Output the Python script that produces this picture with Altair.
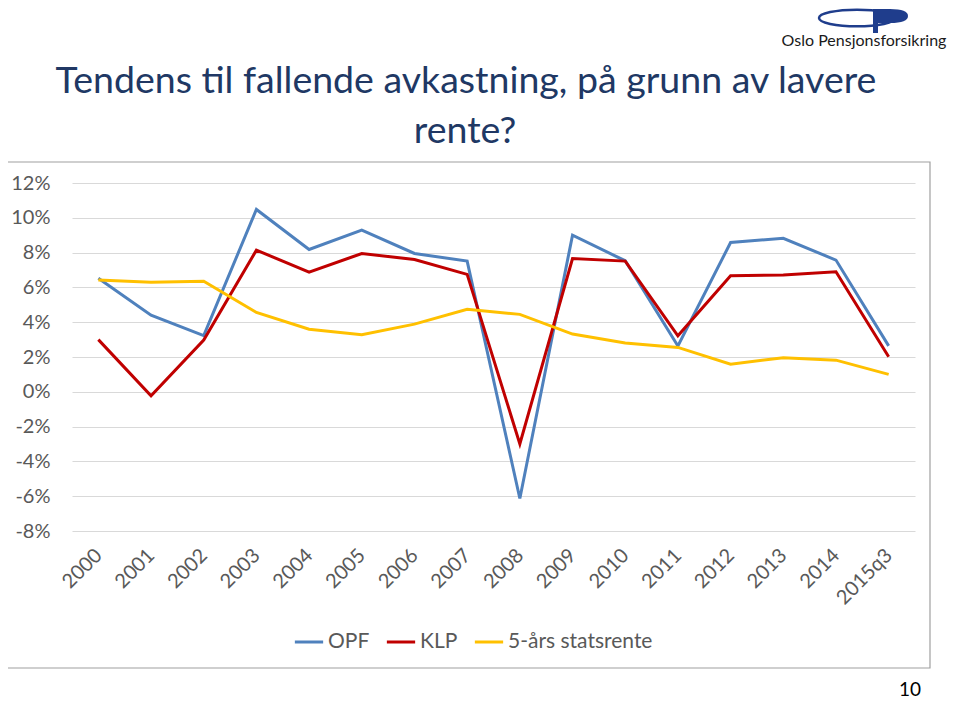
import altair as alt
import pandas as pd

years = ["2000", "2001", "2002", "2003", "2004", "2005", "2006", "2007",
         "2008", "2009", "2010", "2011", "2012", "2013", "2014", "2015q3"]
opf = [6.53, 4.4, 3.23, 10.48, 8.18, 9.29, 7.95, 7.51, -6.13, 9.0, 7.53, 2.63, 8.58, 8.82, 7.57, 2.64]
klp = [3.0, -0.23, 2.97, 8.14, 6.88, 7.95, 7.6, 6.75, -3.0, 7.66, 7.51, 3.22, 6.67, 6.71, 6.9, 2.01]
rente = [6.42, 6.3, 6.36, 4.56, 3.6, 3.28, 3.89, 4.74, 4.45, 3.32, 2.8, 2.55, 1.59, 1.96, 1.82, 1.0]
series_names = ["OPF", "KLP", "5-års statsrente"]
series_colors = ["#4F81BD", "#C00000", "#FFC000"]
y_ticks = [-8, -6, -4, -2, 0, 2, 4, 6, 8, 10, 12]
title_lines = ["Tendens til fallende avkastning, på grunn av lavere", "rente?"]
logo_text = "Oslo Pensjonsforsikring"
page_number = "10"

FONT = "Lato"
LABEL_COLOR = "#595959"
LOGO_BLUE = "#1f3d8c"

rows = []
for name, vals in zip(series_names, [opf, klp, rente]):
    for yr, v in zip(years, vals):
        rows.append({"year": yr, "value": v, "series": name})
df = pd.DataFrame(rows)
one = pd.DataFrame({"k": [0]})

# plot origin on the page is (72, 183); helpers convert page px to plot px
def px(v):
    return v - 72

def py(v):
    return v - 183

x_enc = alt.X(
    "year:N", sort=years,
    scale=alt.Scale(type="point", padding=0.5),
    axis=alt.Axis(title=None, domain=False, ticks=False, grid=False,
                  labelAngle=-45, labelAlign="right", labelBaseline="middle",
                  labelPadding=21, labelFont=FONT, labelFontSize=20,
                  labelColor=LABEL_COLOR),
)
y_enc = alt.Y(
    "value:Q",
    scale=alt.Scale(domain=[-8, 12], nice=False, zero=False),
    axis=alt.Axis(title=None, values=y_ticks, labelExpr="datum.value + '%'",
                  domain=False, ticks=False, grid=True, gridColor="#D9D9D9",
                  gridWidth=1, labelPadding=22, labelFont=FONT, labelFontSize=20,
                  labelColor=LABEL_COLOR),
)
color_enc = alt.Color(
    "series:N",
    scale=alt.Scale(domain=series_names, range=series_colors),
    legend=alt.Legend(orient="none", legendX=221, legendY=443, direction="horizontal",
                      title=None, symbolType="stroke", symbolSize=800,
                      symbolStrokeWidth=3, labelFont=FONT, labelFontSize=21,
                      labelColor=LABEL_COLOR, columnPadding=10, labelOffset=3),
)

line_layers = []
for name in series_names:
    line_layers.append(
        alt.Chart(df).transform_filter(alt.datum.series == name)
        .mark_line(strokeWidth=3)
        .encode(x=x_enc, y=y_enc, color=color_enc)
    )

box = alt.Chart(one).mark_rect(fill=None, stroke="#A0A0A0", strokeWidth=1.2).encode(
    x=alt.value(px(2)), x2=alt.value(px(930)), y=alt.value(py(162)), y2=alt.value(py(668)))

title1 = alt.Chart(one).mark_text(text=title_lines[0], font=FONT, fontSize=37.5,
                                  color="#203864", align="center", baseline="alphabetic").encode(
    x=alt.value(px(466)), y=alt.value(py(93)))
title2 = alt.Chart(one).mark_text(text=title_lines[1], font=FONT, fontSize=37.5,
                                  color="#203864", align="center", baseline="alphabetic").encode(
    x=alt.value(px(465)), y=alt.value(py(143)))

logo_txt = alt.Chart(one).mark_text(text=logo_text, font=FONT, fontSize=16,
                                    color="#1a1a1a", align="center", baseline="alphabetic").encode(
    x=alt.value(px(864)), y=alt.value(py(46)))

ellipse_path = "M -1 0 A 1 0.22 0 1 0 1 0 A 1 0.22 0 1 0 -1 0 Z"
logo_ellipse = alt.Chart(one).mark_point(shape=ellipse_path, size=5776, filled=False,
                                         stroke=LOGO_BLUE, strokeWidth=2.5, opacity=1).encode(
    x=alt.value(px(857)), y=alt.value(py(18)))
lobe_path = "M -0.944 -0.389 L 0 -0.389 Q 1 -0.389 1 0 Q 1 0.389 0 0.389 L -0.944 0.389 Z"
logo_lobe = alt.Chart(one).mark_point(shape=lobe_path, size=1296, filled=True,
                                      fill=LOGO_BLUE, opacity=1, strokeWidth=0).encode(
    x=alt.value(px(890)), y=alt.value(py(16)))
logo_stem = alt.Chart(one).mark_rect(fill=LOGO_BLUE).encode(
    x=alt.value(px(873)), x2=alt.value(px(878)), y=alt.value(py(9)), y2=alt.value(py(33)))

page_num = alt.Chart(one).mark_text(text=page_number, font=FONT, fontSize=19,
                                    color="#000000", align="center", baseline="alphabetic").encode(
    x=alt.value(px(910)), y=alt.value(py(696)))

chart = alt.layer(
    box, *line_layers, title1, title2, logo_ellipse, logo_lobe, logo_stem, logo_txt, page_num
).properties(
    width=843, height=348,
    autosize=alt.AutoSizeParams(type="none"),
    padding={"left": 64, "top": 175, "right": 37, "bottom": 171},
).configure_view(stroke=None)

chart.save("out.html", embed_options={"renderer": "svg", "actions": False})
